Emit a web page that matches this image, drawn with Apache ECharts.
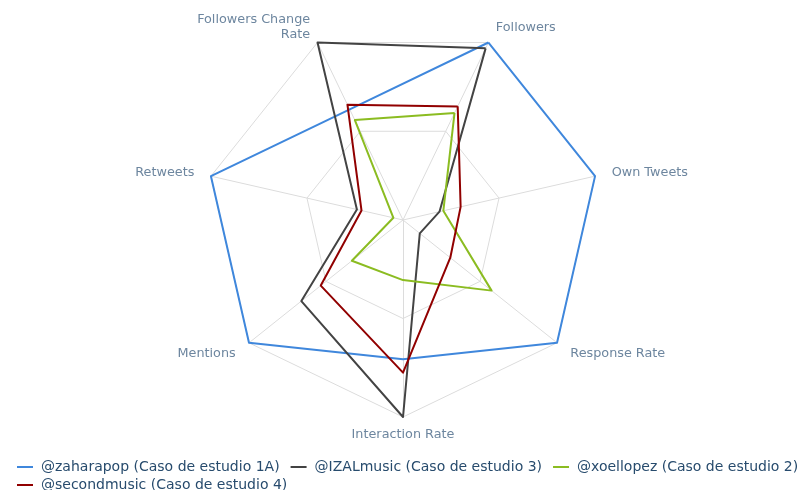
<!DOCTYPE html>
<html lang="es">
<head>
<meta charset="UTF-8">
<title>Radar casos de estudio</title>
<script src="https://cdn.jsdelivr.net/npm/echarts@6/dist/echarts.min.js"></script>
<style>
    html, body { margin: 0; padding: 0; background: #fff; }
    #chart { width: 799px; height: 490px; }
</style>
</head>
<body>
<div id="chart"></div>
<script>
    // indicadores en el orden en que ECharts los coloca (antihorario desde Followers)
    var indicators = ['Followers', 'Followers Change\nRate', 'Retweets', 'Mentions', 'Interaction Rate', 'Response Rate', 'Own Tweets'];
    var seriesNames = [
        '@zaharapop (Caso de estudio 1A)',
        '@IZALmusic (Caso de estudio 3)',
        '@xoellopez (Caso de estudio 2)',
        '@secondmusic (Caso de estudio 4)'
    ];
    var zaharapop   = [100, 62.3, 100, 100, 70.7, 100, 100];
    var izalmusic   = [96.7, 100, 24, 66, 100, 10.9, 19];
    var xoellopez   = [60.3, 56.3, 5, 33.2, 30.5, 57.5, 21];
    var secondmusic = [64, 65, 21.6, 53.4, 77.5, 30.7, 30];
    var colors = ['#3f87dc', '#434343', '#8bbc21', '#910000'];

    var values = [zaharapop, izalmusic, xoellopez, secondmusic];
    var seriesData = values.map(function (v, i) {
        return {
            name: seriesNames[i],
            value: v,
            itemStyle: { color: colors[i] },
            lineStyle: { color: colors[i], width: 2 }
        };
    });

    var legendText = { color: '#274b6d', fontSize: 14, fontFamily: 'DejaVu Sans', padding: [0, 0, 0, 3] };
    var nameFont = { color: '#6d869f', fontSize: 12.8, fontFamily: 'DejaVu Sans' };

    var myChart = echarts.init(document.getElementById('chart'));
    var option = {
        animation: false,
        legend: [
            {
                left: 12, top: 455, width: 790, orient: 'horizontal',
                icon: 'rect', itemWidth: 16, itemHeight: 2, itemGap: 11,
                textStyle: legendText,
                data: seriesNames.slice(0, 3)
            },
            {
                left: 12, top: 473, orient: 'horizontal',
                icon: 'rect', itemWidth: 16, itemHeight: 2,
                textStyle: legendText,
                data: seriesNames.slice(3)
            }
        ],
        radar: {
            center: [403, 220],
            radius: 197,
            startAngle: 64.29,
            splitNumber: 2,
            shape: 'polygon',
            axisNameGap: 17,
            axisName: {
                color: nameFont.color,
                fontSize: nameFont.fontSize,
                fontFamily: nameFont.fontFamily,
                lineHeight: 15,
                formatter: function (name) {
                    // la etiqueta inferior va centrada sobre su punto, no debajo
                    return name === 'Interaction Rate' ? '{low|' + name + '}' : name;
                },
                rich: {
                    low: {
                        color: nameFont.color,
                        fontSize: nameFont.fontSize,
                        fontFamily: nameFont.fontFamily,
                        lineHeight: 2
                    }
                }
            },
            splitLine: { lineStyle: { color: '#dcdcdc', width: 1 } },
            splitArea: { show: false },
            axisLine: { lineStyle: { color: '#dcdcdc', width: 1 } },
            indicator: indicators.map(function (n) { return { name: n, min: 0, max: 100 }; })
        },
        series: [{
            type: 'radar',
            symbol: 'none',
            data: seriesData
        }]
    };
    myChart.setOption(option);
</script>
</body>
</html>
